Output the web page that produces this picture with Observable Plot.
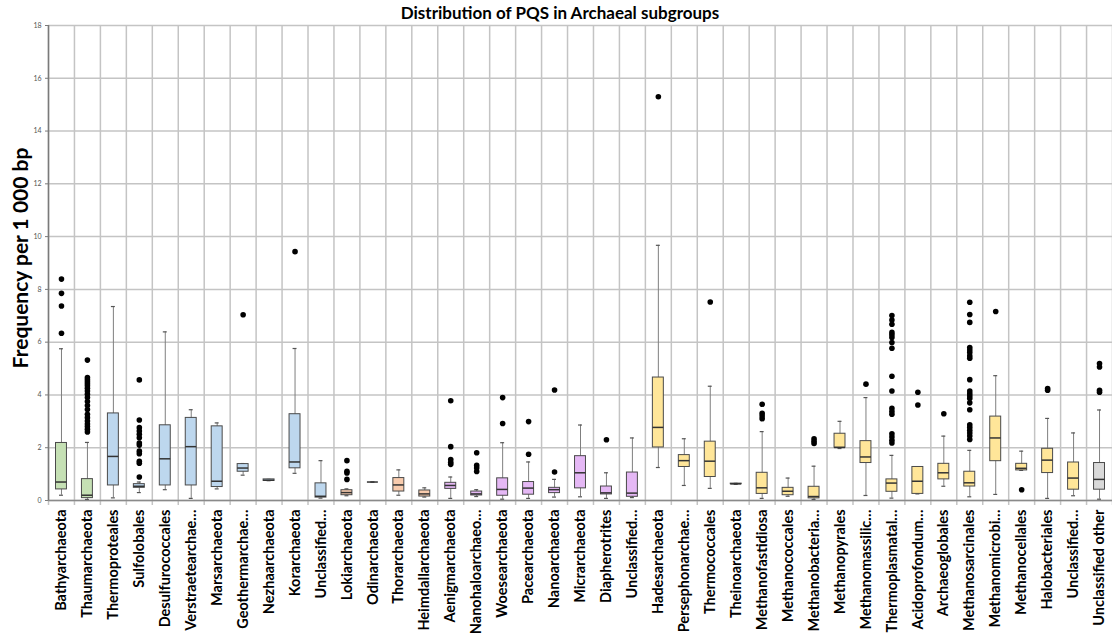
<!DOCTYPE html>
<html><head><meta charset="utf-8">
<script src="https://cdn.jsdelivr.net/npm/d3@7"></script>
<script src="https://cdn.jsdelivr.net/npm/@observablehq/plot@0.6"></script>
<style>
body{margin:0;background:#fff;}
#wrap{position:relative;width:1112px;height:635px;overflow:hidden;background:#fff;}
#title{position:absolute;left:0;width:1120px;top:2px;text-align:center;font:bold 17px Lato, sans-serif;color:#000;}
#ylab{position:absolute;left:19px;top:258px;transform:translate(-50%,-50%) rotate(-90deg);font:bold 21px Lato, sans-serif;white-space:nowrap;color:#000;}
#chart{position:absolute;left:0;top:0;}
</style></head>
<body>
<div id="wrap">
<div id="chart"></div>
<div id="title">Distribution of PQS in Archaeal subgroups</div>
<div id="ylab">Frequency per 1 000 bp</div>
</div>
<script>
const categories = ["Bathyarchaeota","Thaumarchaeota","Thermoproteales","Sulfolobales","Desulfurococcales","Verstraetearchae…","Marsarchaeota","Geothermarchae…","Nezhaarchaeota","Korarchaeota","Unclassified…","Lokiarchaeota","Odinarchaeota","Thorarchaeota","Heimdallarchaeota","Aenigmarchaeota","Nanohaloarchaeo…","Woesearchaeota","Pacearchaeota","Nanoarchaeota","Micrarchaeota","Diapherotrites","Unclassified…","Hadesarchaeota","Persephonarchae…","Thermococcales","Theinoarchaeota","Methanofastidiosa","Methanococcales","Methanobacteria…","Methanopyrales","Methanomassilic…","Thermoplasmatal…","Acidoprofondum…","Archaeoglobales","Methanosarcinales","Methanomicrobi…","Methanocellales","Halobacteriales","Unclassified…","Unclassified other"];
const groups = ["G","G","T","T","T","T","T","T","T","T","T","A","A","A","A","D","D","D","D","D","D","D","D","E","E","E","E","E","E","E","E","E","E","E","E","E","E","E","E","E","O"];
const groupNames = ["G","T","A","D","E","O"];
const groupColors = ["#c5e0b4","#bdd7ee","#f8cbad","#e5b8f5","#ffe699","#d9d9d9"];
const whiskerLow  = [0.20,0.04,0.10,0.30,0.41,0.08,0.44,0.96,0.75,1.03,0.09,0.18,0.70,0.20,0.13,0.08,0.15,0.05,0.08,0.13,0.14,0.08,0.11,1.25,0.57,0.46,0.61,0.08,0.16,0.04,1.97,0.19,0.09,0.25,0.54,0.14,0.23,1.14,0.08,0.18,0.05];
const q1          = [0.42,0.09,0.57,0.48,0.57,0.57,0.51,1.09,0.74,1.22,0.11,0.20,0.70,0.34,0.15,0.44,0.19,0.18,0.22,0.28,0.46,0.23,0.14,2.01,1.27,0.89,0.62,0.25,0.20,0.08,2.00,1.42,0.33,0.25,0.80,0.53,1.49,1.14,1.04,0.41,0.41];
const median      = [0.70,0.20,1.67,0.54,1.58,2.04,0.73,1.23,0.77,1.46,0.16,0.30,0.70,0.59,0.25,0.57,0.25,0.42,0.47,0.41,1.05,0.29,0.28,2.77,1.51,1.49,0.63,0.48,0.35,0.15,2.01,1.65,0.66,0.73,1.05,0.67,2.37,1.22,1.53,0.85,0.80];
const q3          = [2.18,0.81,3.30,0.62,2.85,3.13,2.81,1.38,0.80,3.27,0.65,0.39,0.70,0.85,0.38,0.67,0.34,0.84,0.70,0.48,1.68,0.53,1.06,4.66,1.72,2.23,0.64,1.05,0.48,0.52,2.53,2.25,0.80,1.27,1.39,1.09,3.18,1.39,1.96,1.44,1.42];
const whiskerHigh = [5.75,2.20,7.35,0.70,6.39,3.44,2.94,1.40,0.80,5.76,1.51,0.44,0.70,1.16,0.48,0.89,0.41,2.19,1.46,0.80,2.86,1.05,2.37,9.67,2.34,4.33,0.65,2.61,0.85,1.30,3.00,3.90,1.71,1.27,2.44,1.90,4.73,1.87,3.11,2.56,3.43];
const outliers = [
  [8.39,7.85,7.37,6.34],
  [5.32,4.66,4.58,4.50,4.42,4.35,4.25,4.15,4.03,3.90,3.75,3.60,3.45,3.27,3.14,3.01,2.90,2.80,2.70,2.60],
  [],
  [4.57,3.05,2.76,2.63,2.51,2.38,2.18,2.10,1.87,1.77,1.49,1.41,0.89],
  [],[],[],
  [7.04],
  [],
  [9.43],
  [],
  [1.51,1.11,1.04,0.80],
  [],[],[],
  [3.78,2.04,1.55,1.45,1.37],
  [1.81,1.33,1.23,1.10],
  [3.90,2.92],
  [2.99,1.75],
  [4.19,1.08],
  [],
  [2.30],
  [],
  [15.30],
  [],
  [7.52],
  [],
  [3.65,3.30,3.20,3.10],
  [],
  [2.34,2.25,2.16],
  [],
  [4.41],
  [7.01,6.84,6.68,6.37,6.28,6.18,5.99,5.77,4.71,4.15,3.49,3.37,3.27,2.53,2.41,2.28,2.18],
  [4.10,3.62],
  [3.29],
  [7.51,7.05,6.75,5.80,5.70,5.61,5.48,5.39,4.58,4.15,4.05,3.96,3.87,3.70,3.44,2.87,2.77,2.66,2.56,2.44,2.31],
  [7.16],
  [0.41],
  [4.24,4.18],
  [],
  [5.19,5.06,4.18,4.10]
];
const yTicks = [0,2,4,6,8,10,12,14,16,18];

const W = 1112, H = 635, mL = 48, mR = 0, mT = 25, mB = 135;
const idx = d3.range(categories.length);
const bw = (W - mL - mR) / categories.length;
const rows = idx.map(i => ({i, lo: whiskerLow[i], q1: q1[i], med: median[i], q3: q3[i], hi: whiskerHigh[i], group: groups[i]}));
const outRows = idx.flatMap(i => outliers[i].map(v => ({i, v})));
const gridC = "#c4c4c4";

const chart = Plot.plot({
  width: W, height: H,
  marginLeft: mL, marginRight: mR, marginTop: mT, marginBottom: mB,
  style: {background: "white", fontFamily: "Lato, sans-serif", overflow: "visible"},
  x: {type: "band", domain: idx, padding: 0},
  y: {domain: [0, 18]},
  color: {domain: groupNames, range: groupColors},
  marks: [
    Plot.gridY(yTicks, {stroke: gridC, strokeOpacity: 1, strokeWidth: 1.5}),
    Plot.ruleX(idx, {x: d => d, dx: -bw / 2, y1: 18, y2: 0, insetBottom: -5, stroke: gridC, strokeWidth: 1.5}),
    Plot.ruleX([idx[idx.length - 1]], {x: d => d, dx: bw / 2, y1: 18, y2: 0, insetBottom: -5, stroke: gridC, strokeWidth: 1.5}),
    Plot.ruleY([0], {stroke: "#8a8a8a", strokeWidth: 1.5}),
    Plot.ruleX([idx[0]], {x: d => d, dx: -bw / 2, y1: 18, y2: 0, stroke: "#7a7a7a", strokeWidth: 1.5}),
    Plot.axisY(yTicks, {fontSize: 7, tickSize: 3, tickPadding: 4, stroke: "#7a7a7a", fill: "#555", label: null}),
    Plot.axisX(idx, {tickFormat: i => categories[i], tickRotate: -90, tickSize: 0, tickPadding: 9, fontSize: 14.5, fontWeight: "bold", fill: "#000", label: null}),
    Plot.ruleX(rows, {x: "i", y1: "lo", y2: "hi", stroke: "#7f7f7f", strokeWidth: 1}),
    Plot.tickY(rows, {x: "i", y: "lo", insetLeft: 11, insetRight: 11, stroke: "#555", strokeWidth: 1.2}),
    Plot.tickY(rows, {x: "i", y: "hi", insetLeft: 11, insetRight: 11, stroke: "#555", strokeWidth: 1.2}),
    Plot.barY(rows, {x: "i", y1: "q1", y2: "q3", fill: "group", stroke: "#4a4a4a", strokeWidth: 1, insetLeft: 7.5, insetRight: 7.5}),
    Plot.tickY(rows, {x: "i", y: "med", stroke: "#333", strokeWidth: 1.5, insetLeft: 7.5, insetRight: 7.5}),
    Plot.dot(outRows, {x: "i", y: "v", r: 2.8, fill: "#000", stroke: null})
  ]
});
document.getElementById("chart").append(chart);
</script>
</body></html>
